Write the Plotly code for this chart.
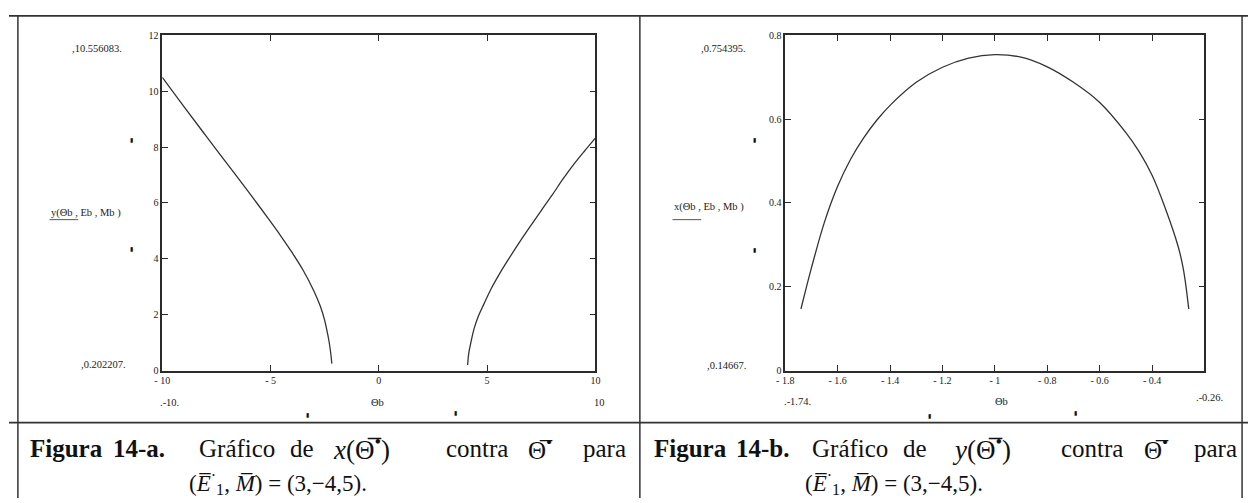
import plotly.graph_objects as go

W, H = 1253, 503

# ---- data ----
left_theta_a = [-10.0, -9.0, -8.0, -7.0, -6.0, -5.0, -4.5, -4.0, -3.5, -3.0, -2.7, -2.5,
                -2.4, -2.3, -2.22, -2.17]
left_y_a = [10.5, 9.45, 8.42, 7.40, 6.38, 5.33, 4.79, 4.22, 3.60, 2.85, 2.30, 1.80,
            1.45, 1.05, 0.62, 0.25]
left_theta_b = [4.10, 4.15, 4.25, 4.4, 4.6, 4.85, 5.2, 5.6, 6.0, 6.5, 7.0, 7.5, 8.0,
                8.5, 9.0, 9.5, 10.0]
left_y_b = [0.2, 0.6, 1.0, 1.5, 1.95, 2.38, 2.95, 3.50, 4.0, 4.6, 5.17, 5.73, 6.28,
            6.85, 7.38, 7.86, 8.32]

right_theta = [-1.74, -1.70, -1.65, -1.60, -1.55, -1.50, -1.45, -1.40, -1.30, -1.20,
               -1.10, -1.00, -0.90, -0.80, -0.70, -0.60, -0.50, -0.45, -0.40, -0.35,
               -0.30, -0.28, -0.26]
right_x = [0.147, 0.245, 0.355, 0.440, 0.505, 0.556, 0.598, 0.633, 0.688, 0.724,
           0.746, 0.754, 0.748, 0.725, 0.688, 0.640, 0.568, 0.523, 0.466, 0.388,
           0.295, 0.240, 0.147]

left_xticks = [-10, -5, 0, 5, 10]
left_xtick_text = ["- 10", "- 5", "0", "5", "10"]
left_yticks = [0, 2, 4, 6, 8, 10, 12]
left_ytick_text = ["0", "2", "4", "6", "8", "10", "12"]
right_xticks = [-1.8, -1.6, -1.4, -1.2, -1.0, -0.8, -0.6, -0.4, -0.2]
right_xtick_text = ["- 1.8", "- 1.6", "- 1.4", "- 1.2", "- 1", "- 0.8", "- 0.6", "- 0.4", ""]
right_yticks = [0, 0.2, 0.4, 0.6, 0.8]
right_ytick_text = ["0", "0.2", "0.4", "0.6", "0.8"]

# ---- figure ----
def px(x):
    return x / W

def py(y):
    return 1 - y / H

LINE = "#2a2a2a"
fig = go.Figure()
curve = dict(color="#333333", width=1.3, smoothing=1.0)
fig.add_trace(go.Scatter(x=left_theta_a, y=left_y_a, mode="lines", line=curve,
                         line_shape="spline", xaxis="x", yaxis="y", showlegend=False))
fig.add_trace(go.Scatter(x=left_theta_b, y=left_y_b, mode="lines", line=curve,
                         line_shape="spline", xaxis="x", yaxis="y", showlegend=False))
fig.add_trace(go.Scatter(x=right_theta, y=right_x, mode="lines", line=curve,
                         line_shape="spline", xaxis="x2", yaxis="y2", showlegend=False))

tickfont = dict(family="Liberation Serif", size=10, color="#222")
axis_common = dict(showline=True, linecolor=LINE, linewidth=1.5, mirror="allticks",
                   ticks="inside", ticklen=6, tickcolor=LINE, tickwidth=1.3,
                   showgrid=False, zeroline=False, tickfont=tickfont, fixedrange=True)

fig.update_layout(
    width=W, height=H, margin=dict(l=0, r=0, t=0, b=0),
    paper_bgcolor="white", plot_bgcolor="white",
    xaxis=dict(domain=[px(155), px(593)], range=[-10, 10], anchor="y",
               tickvals=left_xticks, ticktext=left_xtick_text, **axis_common),
    yaxis=dict(domain=[py(373), py(31)], range=[0, 12], anchor="x",
               tickvals=left_yticks, ticktext=left_ytick_text, **axis_common),
    xaxis2=dict(domain=[px(785), px(1209)], range=[-1.8, -0.2], anchor="y2",
                tickvals=right_xticks, ticktext=right_xtick_text, **axis_common),
    yaxis2=dict(domain=[py(373), py(31)], range=[0, 0.8], anchor="x2",
                tickvals=right_yticks, ticktext=right_ytick_text, **axis_common),
)

ann = []
def txt(x, y, s, size=10.5, xanchor="center", family="Liberation Serif", color="#222"):
    ann.append(dict(x=px(x), y=py(y), xref="paper", yref="paper", text=s, showarrow=False,
                    xanchor=xanchor, yanchor="middle",
                    font=dict(family=family, size=size, color=color)))

# Mathcad limit labels and axis labels - left plot
txt(89, 44, ",10.556083.")
txt(96, 367, ",0.202207.")
txt(162, 406, ".-10.")
txt(597, 406, "10")
txt(373, 406, "Θb")
txt(78, 212, "y(Θb , Eb , Mb )")
# right plot
txt(723, 44, ",0.754395.")
txt(726, 368, ",0.14667.")
txt(797, 405, ".-1.74.")
txt(1214, 400, ".-0.26.")
txt(1004, 405, "Θb")
txt(708, 206, "x(Θb , Eb , Mb )")

# small marker blocks
for (mx, my) in [(124, 138), (124, 249), (302, 418), (452, 416),
                 (754, 138), (754, 250), (931, 419), (1079, 416)]:
    txt(mx, my, "▮", size=6, color="#111")

# captions
cap = dict(family="Liberation Serif", size=25, color="#111")
cap_eq = dict(family="Liberation Serif", size=27, color="#111")
OB = "\u0305"
theta = "Θ" + OB
def caption(letter, fn, words_x):
    words = ["<b>Figura</b>", "<b>14-" + letter + ".</b>", "Gráfico", "de",
             "<i>" + fn + "</i>(" + theta + "<sup>•</sup>)", "contra",
             theta + "<sup>•</sup>", "para"]
    for i, (w, wx) in enumerate(zip(words, words_x)):
        ann.append(dict(x=px(wx), y=py(452), xref="paper", yref="paper", text=w,
                        showarrow=False, xanchor="left", yanchor="middle",
                        font=cap_eq if i == 4 else cap))

caption("a", "x", [19, 103, 190, 282, 326, 440, 523, 578])
caption("b", "y", [650, 733, 810, 902, 952, 1062, 1146, 1196])
line2 = "(<i>E" + OB + "</i><sup>·</sup><sub>1</sub>, <i>M" + OB + "</i>) = (3,−4,5)."
cap2 = dict(family="Liberation Serif", size=23, color="#111")
for cx in [272, 895]:
    ann.append(dict(x=px(cx), y=py(487), xref="paper", yref="paper", text=line2,
                    showarrow=False, xanchor="center", yanchor="middle", font=cap2))

# underline of y-axis labels
shapes = []
def hline(x0, x1, y, w=1.0, c="#555"):
    shapes.append(dict(type="line", xref="paper", yref="paper", x0=px(x0), x1=px(x1),
                       y0=py(y), y1=py(y), line=dict(color=c, width=w)))
def vline(x, y0, y1, w=1.5, c="#333"):
    shapes.append(dict(type="line", xref="paper", yref="paper", x0=px(x), x1=px(x),
                       y0=py(y0), y1=py(y1), line=dict(color=c, width=w)))

hline(41, 70, 219)
hline(671, 700, 219)
# table borders
hline(0, 1253, 11, 1.8, "#333")
hline(0, 1253, 426, 1.8, "#333")
vline(9, 11, 503)
vline(638, 11, 503)
vline(1247, 11, 503)

fig.update_layout(annotations=ann, shapes=shapes)
fig.write_html("out.html")
